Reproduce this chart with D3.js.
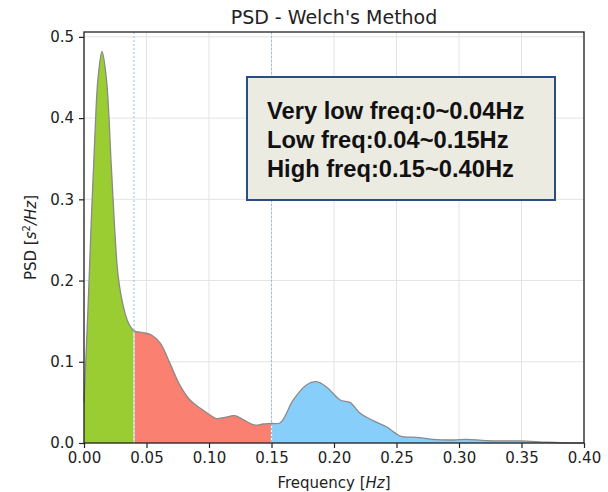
<!DOCTYPE html>
<html>
<head>
<meta charset="utf-8">
<script src="https://cdn.jsdelivr.net/npm/d3@7"></script>
<style>
  html, body { margin: 0; padding: 0; background: #fff; }
  svg { display: block; }
  .tick text { font-family: "DejaVu Sans", sans-serif; font-size: 15px; fill: #222; }
</style>
</head>
<body>
<svg id="chart" width="608" height="492"></svg>
<script>
// Power spectral density (Welch estimate)
const freq = [0, 0.0032, 0.0059, 0.0085, 0.0112, 0.0144, 0.0179, 0.0219, 0.0245, 0.0272, 0.0312, 0.0352,
  0.04, 0.047, 0.054, 0.061, 0.0688, 0.0768, 0.0848, 0.0928, 0.1008, 0.106, 0.1128, 0.1208, 0.1288, 0.1368, 0.1434,
  0.15, 0.157, 0.1674, 0.178, 0.186, 0.194, 0.205, 0.213, 0.221, 0.2314, 0.242, 0.253, 0.266, 0.279, 0.2954,
  0.306, 0.322, 0.349, 0.367, 0.381, 0.4];
const psd = [0.05, 0.166, 0.277, 0.371, 0.449, 0.482, 0.449, 0.339, 0.265, 0.207, 0.170, 0.149,
  0.138, 0.136, 0.133, 0.123, 0.098, 0.071, 0.053, 0.043, 0.0345, 0.030, 0.0316, 0.0337, 0.0275, 0.022, 0.0234,
  0.024, 0.025, 0.053, 0.0714, 0.0755, 0.069, 0.053, 0.0497, 0.0365, 0.0275, 0.020, 0.0086, 0.007, 0.0045, 0.0037,
  0.0045, 0.003, 0.0025, 0.0012, 0.0003, 0];

// Frequency bands: [start, end] and fill colour
const bandEdges = [[0, 0.04], [0.04, 0.15], [0.15, 0.40]];
const bandColors = ["#9acd32", "#fa8072", "#87cefa"];
const bandLabels = ["Very low freq:0~0.04Hz", "Low freq:0.04~0.15Hz", "High freq:0.15~0.40Hz"];

const xTicks = [0, 0.05, 0.10, 0.15, 0.20, 0.25, 0.30, 0.35, 0.40];
const yTicks = [0, 0.1, 0.2, 0.3, 0.4, 0.5];

const svg = d3.select("#chart");
const L = 84, R = 584, T = 32, B = 443;

const x = d3.scaleLinear().domain([0, 0.40]).range([L, R]);
const y = d3.scaleLinear().domain([0, 0.506]).range([B, T]);

const pts = freq.map((f, i) => ({ f, v: psd[i] }));

// grid
const grid = svg.append("g");
grid.selectAll(".gx").data(xTicks).join("line")
  .attr("x1", d => x(d)).attr("x2", d => x(d)).attr("y1", T).attr("y2", B)
  .attr("stroke", "#e3e3e3").attr("stroke-width", 1);
grid.selectAll(".gy").data(yTicks).join("line")
  .attr("x1", L).attr("x2", R).attr("y1", d => y(d)).attr("y2", d => y(d))
  .attr("stroke", "#e3e3e3").attr("stroke-width", 1);

// band fills
const curve = d3.curveCatmullRom.alpha(0.5);
const area = d3.area().x(d => x(d.f)).y0(y(0)).y1(d => y(d.v)).curve(curve);
bandEdges.forEach(([a, b], i) => {
  const seg = pts.filter(p => p.f >= a && p.f <= b);
  svg.append("path").datum(seg).attr("d", area).attr("fill", bandColors[i]);
});

// band boundaries
const bounds = [0.04, 0.15];
svg.selectAll(".bw").data(bounds).join("line")
  .attr("x1", d => x(d)).attr("x2", d => x(d))
  .attr("y1", B).attr("y2", d => y(psd[freq.indexOf(d)]))
  .attr("stroke", "#ffffff").attr("stroke-width", 1.2);
svg.selectAll(".bd").data(bounds).join("line")
  .attr("x1", d => x(d)).attr("x2", d => x(d)).attr("y1", T).attr("y2", B)
  .attr("stroke", "#8fc0e6").attr("stroke-width", 1).attr("stroke-dasharray", "2,2");

// PSD curve
const line = d3.line().x(d => x(d.f)).y(d => y(d.v)).curve(curve);
svg.append("path").datum(pts).attr("d", line)
  .attr("fill", "none").attr("stroke", "#8a8a8a").attr("stroke-width", 1.3);

// axes
const xAxis = svg.append("g").attr("transform", `translate(0,${B})`)
  .call(d3.axisBottom(x).tickValues(xTicks).tickFormat(d3.format(".2f")).tickSize(5).tickPadding(4));
const yAxis = svg.append("g").attr("transform", `translate(${L},0)`)
  .call(d3.axisLeft(y).tickValues(yTicks).tickFormat(d3.format(".1f")).tickSize(5).tickPadding(5));
[xAxis, yAxis].forEach(g => {
  g.select(".domain").remove();
  g.selectAll(".tick line").attr("stroke", "#222").attr("stroke-width", 1.2);
});

// frame
svg.append("rect").attr("x", L).attr("y", T).attr("width", R - L).attr("height", B - T)
  .attr("fill", "none").attr("stroke", "#222").attr("stroke-width", 1.3);

// title & axis labels
svg.append("text").attr("x", (L + R) / 2).attr("y", 24).attr("text-anchor", "middle")
  .attr("font-family", "DejaVu Sans, sans-serif").attr("font-size", 19).attr("fill", "#222")
  .text("PSD - Welch's Method");

const xl = svg.append("text").attr("x", (L + R) / 2).attr("y", 488).attr("text-anchor", "middle")
  .attr("font-family", "DejaVu Sans, sans-serif").attr("font-size", 15).attr("fill", "#222");
xl.append("tspan").text("Frequency [");
xl.append("tspan").attr("font-style", "italic").text("Hz");
xl.append("tspan").text("]");

const yl = svg.append("text").attr("transform", `translate(36,${(T + B) / 2}) rotate(-90)`)
  .attr("text-anchor", "middle")
  .attr("font-family", "DejaVu Sans, sans-serif").attr("font-size", 15).attr("fill", "#222");
yl.append("tspan").text("PSD [");
yl.append("tspan").attr("font-style", "italic").text("s");
yl.append("tspan").attr("font-size", 10).attr("dy", -6).text("2");
yl.append("tspan").attr("font-style", "italic").attr("dy", 6).text("/Hz");
yl.append("tspan").text("]");

// band annotation box
const box = svg.append("g");
box.append("rect").attr("x", 247).attr("y", 77).attr("width", 308).attr("height", 123)
  .attr("fill", "#ecebe2").attr("stroke", "#2b4d85").attr("stroke-width", 2);
box.selectAll("text").data(bandLabels).join("text")
  .attr("x", 267).attr("y", (d, i) => 119 + i * 29)
  .attr("font-family", "Liberation Sans, Arial, sans-serif").attr("font-weight", "bold")
  .attr("font-size", 23.7).attr("fill", "#111")
  .text(d => d);
</script>
</body>
</html>
